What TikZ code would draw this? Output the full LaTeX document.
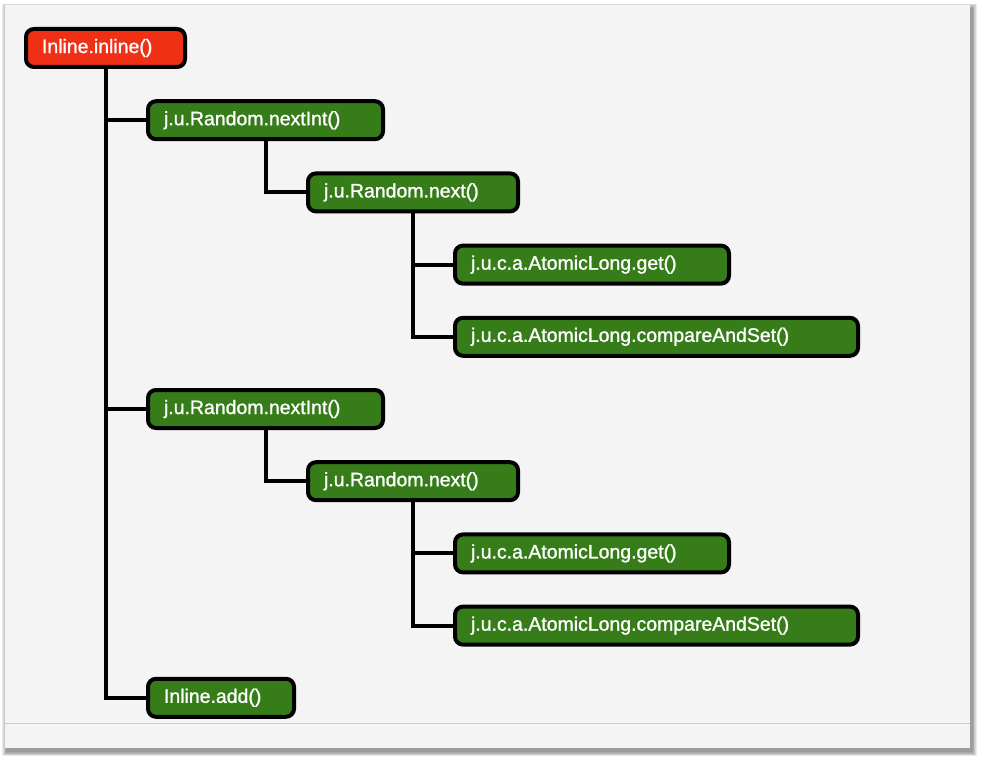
\documentclass[tikz,border=0pt]{standalone}
\usepackage{fontspec}
\setmainfont{Liberation Sans}
\newfontfamily\callfont{Liberation Sans}[RawFeature={embolden=1.2}]
\usetikzlibrary{positioning}
\definecolor{callred}{RGB}{239,48,21}
\definecolor{callgreen}{RGB}{54,125,26}
\definecolor{panelgray}{RGB}{244,244,244}

\begin{document}
\begin{tikzpicture}
  [callbox/.style={rectangle, rounded corners=6pt, draw=black, line width=3pt,
      fill=callgreen, text=white, font=\callfont\fontsize{14.6}{17}\selectfont,
      align=left, inner xsep=12pt, inner ysep=2pt, minimum height=28.5pt},
    rootbox/.style={callbox, fill=callred},
    link/.style={draw=black, line width=3pt}]

  \useasboundingbox (0,0) rectangle (738pt,-572.25pt);

  % window and its shadow
  \foreach \d in {1,...,6}
    \fill[black, opacity=0.08]
      ({3.75pt+1.5pt-\d*0.6pt},{-3.75pt-2.5pt+\d*0.6pt})
      rectangle ({727.5pt+1.5pt+\d*0.6pt},{-561pt-2.5pt-\d*0.6pt});
  \fill[panelgray] (3.75pt,-3.75pt) rectangle (727.5pt,-561pt);
  \draw[black!20, line width=0.75pt] (3.75pt,-542.25pt) -- (727.5pt,-542.25pt);

  % Define nodes
  \node[rootbox, anchor=north west, text width=95.25pt] (inl) at (18pt,-20.25pt) {Inline.inline()};

  \node[callbox, below right=22.65pt and 91.5pt of inl.south west, text width=152.25pt]  (nint1) {j.u.Random.nextInt()};
  \node[callbox, below right=22.65pt and 120pt of nint1.south west, text width=133.5pt]  (next1) {j.u.Random.next()};
  \node[callbox, below right=22.65pt and 110.25pt of next1.south west, text width=181.5pt]  (get1) {j.u.c.a.AtomicLong.get()};
  \node[callbox, below right=22.65pt and 0pt of get1.south west, text width=278.25pt]  (cas1) {j.u.c.a.AtomicLong.compareAndSet()};

  \node[callbox, below right=185.1pt and 0pt of nint1.south west, text width=152.25pt]  (nint2) {j.u.Random.nextInt()};
  \node[callbox, below right=22.65pt and 120pt of nint2.south west, text width=133.5pt]  (next2) {j.u.Random.next()};
  \node[callbox, below right=22.65pt and 110.25pt of next2.south west, text width=181.5pt]  (get2) {j.u.c.a.AtomicLong.get()};
  \node[callbox, below right=22.65pt and 0pt of get2.south west, text width=278.25pt]  (cas2) {j.u.c.a.AtomicLong.compareAndSet()};

  \node[callbox, below right=185.1pt and 0pt of nint2.south west, text width=85.5pt]  (add) {Inline.add()};

  % Calls
  \draw[link] (inl.south) |- (nint1.west);
  \draw[link] (inl.south) |- (nint2.west);
  \draw[link] (inl.south) |- (add.west);

  \draw[link] (nint1.south) |- (next1.west);
  \draw[link] (next1.south) |- (get1.west);
  \draw[link] (next1.south) |- (cas1.west);

  \draw[link] (nint2.south) |- (next2.west);
  \draw[link] (next2.south) |- (get2.west);
  \draw[link] (next2.south) |- (cas2.west);

\end{tikzpicture}
\end{document}
